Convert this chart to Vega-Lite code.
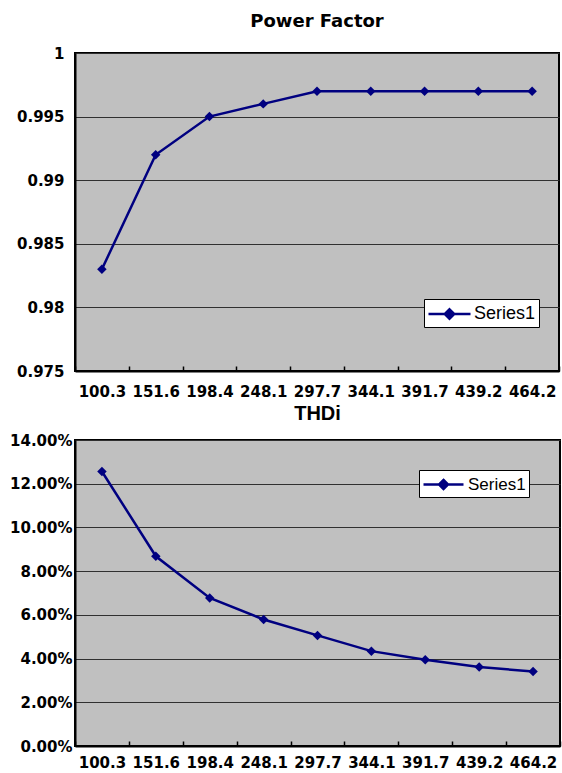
{
  "$schema": "https://vega.github.io/schema/vega-lite/v6.json",
  "background": "white",
  "padding": {"left": 8, "top": 12, "right": 2, "bottom": 0},
  "spacing": 3,
  "resolve": {"scale": {"color": "independent"}, "legend": {"color": "independent"}},
  "config": {
    "font": "DejaVu Sans",
    "view": {"fill": "#C0C0C0", "stroke": "#000000", "strokeWidth": 2},
    "axis": {
      "labelFont": "DejaVu Sans",
      "labelFontWeight": "bold",
      "labelFontSize": 15,
      "labelColor": "#000000",
      "domainColor": "#000000",
      "domainWidth": 2,
      "gridColor": "#303030",
      "gridWidth": 1,
      "gridOpacity": 1,
      "tickColor": "#000000",
      "tickWidth": 1.5,
      "title": null
    },
    "title": {"font": "DejaVu Sans", "fontWeight": "bold", "fontSize": 18, "color": "#000000", "anchor": "middle"},
    "legend": {
      "orient": "none",
      "title": null,
      "fillColor": "#FFFFFF",
      "strokeColor": "#000000",
      "strokeWidth": 1,
      "padding": 3,
      "labelFont": "Liberation Sans",
      "labelFontWeight": "normal",
      "labelColor": "#000000",
      "symbolType": "M-2,0H2M0,-0.45L0.45,0L0,0.45L-0.45,0Z",
      "symbolFillColor": "#000080",
      "symbolStrokeColor": "#000080",
      "symbolStrokeWidth": 2.5,
      "symbolOpacity": 1
    }
  },
  "vconcat": [
    {
      "width": 484,
      "height": 318,
      "title": {"text": "Power Factor", "offset": 15},
      "data": {"values": [
        {"load": "100.3", "pf": 0.983},
        {"load": "151.6", "pf": 0.992},
        {"load": "198.4", "pf": 0.995},
        {"load": "248.1", "pf": 0.996},
        {"load": "297.7", "pf": 0.997},
        {"load": "344.1", "pf": 0.997},
        {"load": "391.7", "pf": 0.997},
        {"load": "439.2", "pf": 0.997},
        {"load": "464.2", "pf": 0.997}
      ]},
      "encoding": {
        "x": {"field": "load", "type": "ordinal", "sort": null,
          "scale": {"paddingInner": 0, "paddingOuter": 0},
          "axis": {"labelAngle": 0, "tickBand": "extent", "ticks": true, "tickSize": -5, "labelPadding": 18, "grid": false}},
        "y": {"field": "pf", "type": "quantitative",
          "scale": {"domain": [0.975, 1], "zero": false, "nice": false},
          "axis": {"values": [0.975, 0.98, 0.985, 0.99, 0.995, 1], "format": ".3~f", "grid": true, "ticks": false, "labelPadding": 11}},
        "color": {"datum": "Series1", "type": "nominal",
          "scale": {"range": ["#000080"]},
          "legend": {"legendX": 349, "legendY": 246, "labelFontSize": 18, "symbolSize": 441, "symbolOffset": 10.5, "labelOffset": 12.5}}
      },
      "layer": [
        {"mark": {"type": "line", "strokeWidth": 2.5}},
        {"mark": {"type": "point", "shape": "diamond", "filled": true, "size": 90, "opacity": 1}}
      ]
    },
    {
      "width": 485,
      "height": 306,
      "title": {"text": "THDi", "offset": 9, "font": "Liberation Sans", "fontSize": 20},
      "data": {"values": [
        {"load": "100.3", "thd": 0.1256},
        {"load": "151.6", "thd": 0.0868},
        {"load": "198.4", "thd": 0.0677},
        {"load": "248.1", "thd": 0.0579},
        {"load": "297.7", "thd": 0.0506},
        {"load": "344.1", "thd": 0.0434},
        {"load": "391.7", "thd": 0.0395},
        {"load": "439.2", "thd": 0.0361},
        {"load": "464.2", "thd": 0.0341}
      ]},
      "encoding": {
        "x": {"field": "load", "type": "ordinal", "sort": null,
          "scale": {"paddingInner": 0, "paddingOuter": 0},
          "axis": {"labelAngle": 0, "tickBand": "extent", "ticks": true, "tickSize": -5, "labelPadding": 14, "grid": false}},
        "y": {"field": "thd", "type": "quantitative",
          "scale": {"domain": [0, 0.14], "nice": false},
          "axis": {"values": [0, 0.02, 0.04, 0.06, 0.08, 0.1, 0.12, 0.14], "format": ".2%", "grid": true, "ticks": false, "labelPadding": 3}},
        "color": {"datum": "Series1", "type": "nominal",
          "scale": {"range": ["#000080"]},
          "legend": {"legendX": 344, "legendY": 30, "labelFontSize": 17, "symbolSize": 400, "symbolOffset": 10, "labelOffset": 13}}
      },
      "layer": [
        {"mark": {"type": "line", "strokeWidth": 2.5}},
        {"mark": {"type": "point", "shape": "diamond", "filled": true, "size": 90, "opacity": 1}}
      ]
    }
  ]
}
